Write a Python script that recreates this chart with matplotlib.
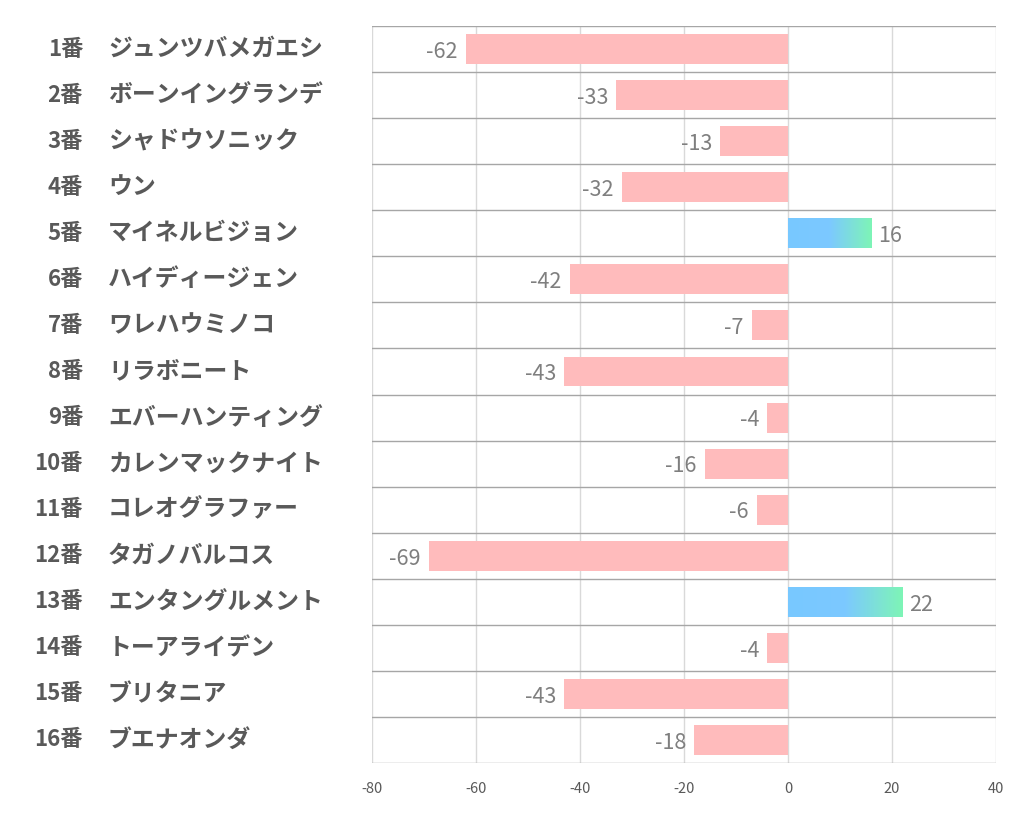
import matplotlib

matplotlib.use("Agg")
import matplotlib.pyplot as plt
import numpy as np
from matplotlib.colors import LinearSegmentedColormap

plt.rcParams["font.family"] = ["Noto Sans CJK JP", "DejaVu Sans"]

numbers = ["1番", "2番", "3番", "4番", "5番", "6番", "7番", "8番",
           "9番", "10番", "11番", "12番", "13番", "14番", "15番", "16番"]
names = ["ジュンツバメガエシ", "ボーンイングランデ", "シャドウソニック", "ウン",
         "マイネルビジョン", "ハイディージェン", "ワレハウミノコ", "リラボニート",
         "エバーハンティング", "カレンマックナイト", "コレオグラファー", "タガノバルコス",
         "エンタングルメント", "トーアライデン", "ブリタニア", "ブエナオンダ"]
values = [-62, -33, -13, -32, 16, -42, -7, -43, -4, -16, -6, -69, 22, -4, -43, -18]
xticks = [-80, -60, -40, -20, 0, 20, 40]

NEG_COLOR = "#FFBBBC"
TEXT_COLOR = "#595959"
VALUE_COLOR = "#7F7F7F"
grad = LinearSegmentedColormap.from_list(
    "bluegreen", [(0, "#78C8FF"), (0.5, "#7CC9FF"), (1, "#7EF5B6")])

fig = plt.figure(figsize=(10.22, 8.34), dpi=100)
ax = fig.add_axes([0.364, 0.0851, 0.6106, 0.8837])

n = len(values)
ys = np.arange(n)
bar_h = 0.65
ax.set_xlim(-80, 40)
ax.set_ylim(n - 0.5, -0.5)

gradient = np.linspace(0, 1, 256).reshape(1, -1)
for y, v in zip(ys, values):
    if v < 0:
        ax.barh(y, v, height=bar_h, color=NEG_COLOR, zorder=3)
        ax.text(v - 1.6, y + 0.06, str(v), ha="right", va="center",
                fontsize=15.5, color=VALUE_COLOR, zorder=4)
    else:
        ax.imshow(gradient, cmap=grad, aspect="auto", zorder=3,
                  extent=[0, v, y + bar_h / 2, y - bar_h / 2])
        ax.text(v + 1.3, y + 0.06, str(v), ha="left", va="center",
                fontsize=15.5, color=VALUE_COLOR, zorder=4)

# grid: light verticals, darker row separators
for x in xticks:
    ax.axvline(x, color="#D9D9D9", lw=1, zorder=1)
for b in np.arange(n + 1) - 0.5:
    ax.axhline(b, color="#A6A6A6", lw=1, zorder=2)

ax.set_xticks(xticks)
ax.set_xticklabels([str(x) for x in xticks], fontsize=10.5, color=TEXT_COLOR)
ax.tick_params(axis="x", length=0, pad=14)
ax.set_yticks([])
for s in ax.spines.values():
    s.set_visible(False)

# row labels left of the plot
for y, num, name in zip(ys, numbers, names):
    ax.annotate(num, xy=(0, y), xycoords=("axes fraction", "data"),
                xytext=(-289, 0), textcoords="offset pixels",
                ha="right", va="center", fontsize=16, fontweight="bold",
                color=TEXT_COLOR, annotation_clip=False)
    ax.annotate(name, xy=(0, y), xycoords=("axes fraction", "data"),
                xytext=(-264, 0), textcoords="offset pixels",
                ha="left", va="center", fontsize=17.2, fontweight="bold",
                color=TEXT_COLOR, annotation_clip=False)

fig.savefig("out.png", dpi=100, facecolor="white")
